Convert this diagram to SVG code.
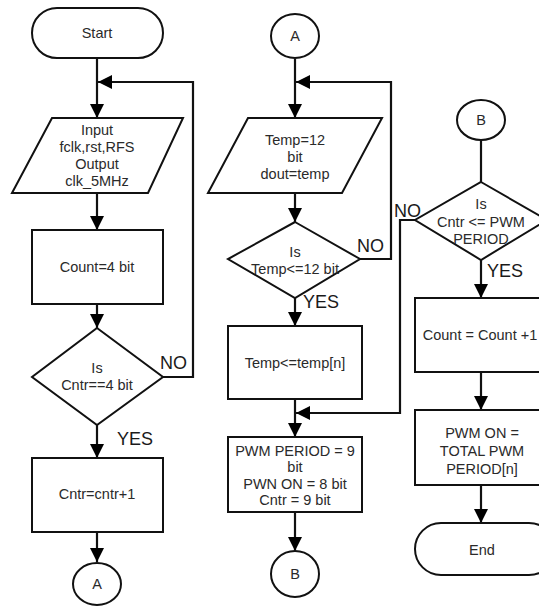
<svg xmlns="http://www.w3.org/2000/svg" width="539" height="606" viewBox="0 0 539 606">
<defs>
<marker id="ah" markerUnits="userSpaceOnUse" markerWidth="14" markerHeight="14" refX="14" refY="7" orient="auto">
<path d="M0,0 L14,7 L0,14 z" fill="#000"/>
</marker>
<style>
.s{fill:#fff;stroke:#111;stroke-width:2}
.t{font-family:"Liberation Sans",Arial,sans-serif;font-size:14.5px;fill:#2a2a2a;text-anchor:middle}
.l{font-family:"Liberation Sans",Arial,sans-serif;font-size:18px;fill:#1a1a1a}
.c{fill:none;stroke:#111;stroke-width:2.2}
</style>
</defs>
<rect width="539" height="606" fill="#fff"/>
<g id="connectors">
<path class="c" d="M97,58 V118" marker-end="url(#ah)"/>
<path class="c" d="M163,377 H193 V82 H98" marker-end="url(#ah)"/>
<path class="c" d="M97,193 V230" marker-end="url(#ah)"/>
<path class="c" d="M97,304 V328" marker-end="url(#ah)"/>
<path class="c" d="M97,425 V458" marker-end="url(#ah)"/>
<path class="c" d="M97,532 V562" marker-end="url(#ah)"/>
<path class="c" d="M295,59 V118" marker-end="url(#ah)"/>
<path class="c" d="M360,259 H391 V82 H296" marker-end="url(#ah)"/>
<path class="c" d="M295,193 V222" marker-end="url(#ah)"/>
<path class="c" d="M295,298 V326" marker-end="url(#ah)"/>
<path class="c" d="M295,399 V437" marker-end="url(#ah)"/>
<path class="c" d="M415,220 H400 V413 H296" marker-end="url(#ah)"/>
<path class="c" d="M295,512 V551" marker-end="url(#ah)"/>
<path class="c" d="M481,140 V182"/>
<path class="c" d="M481,260 V298" marker-end="url(#ah)"/>
<path class="c" d="M481,372 V410" marker-end="url(#ah)"/>
<path class="c" d="M481,485 V523" marker-end="url(#ah)"/>
</g>
<g id="labels">
<text class="l" x="160" y="369">NO</text>
<text class="l" x="117" y="445">YES</text>
<text class="l" x="357" y="252">NO</text>
<text class="l" x="303" y="308">YES</text>
<text class="l" x="394" y="217">NO</text>
<text class="l" x="487" y="277">YES</text>
</g>
<g id="start">
<rect class="s" x="32" y="8" width="131" height="50" rx="25"/>
<text class="t" x="97" y="38">Start</text>
</g>
<g id="io1">
<path class="s" d="M52,118 H183 L148,193 H12 Z"/>
<text class="t" x="97" y="135">Input</text>
<text class="t" x="97" y="152">fclk,rst,RFS</text>
<text class="t" x="97" y="169">Output</text>
<text class="t" x="97" y="186">clk_5MHz</text>
</g>
<g id="count4">
<rect class="s" x="32" y="230" width="131" height="74"/>
<text class="t" x="97" y="272">Count=4 bit</text>
</g>
<g id="dec1">
<path class="s" d="M97,328 L163,377 L97,425 L32,377 Z"/>
<text class="t" x="97" y="373">Is</text>
<text class="t" x="97" y="390">Cntr==4 bit</text>
</g>
<g id="cntr">
<rect class="s" x="32" y="458" width="131" height="74"/>
<text class="t" x="97" y="499">Cntr=cntr+1</text>
</g>
<g id="connA1">
<ellipse class="s" cx="97" cy="584" rx="24" ry="21"/>
<text class="t" x="97" y="589">A</text>
</g>
<g id="connA2">
<ellipse class="s" cx="295" cy="36" rx="24" ry="22"/>
<text class="t" x="295" y="41">A</text>
</g>
<g id="io2">
<path class="s" d="M248,118 H382 L342,193 H208 Z"/>
<text class="t" x="295" y="145">Temp=12</text>
<text class="t" x="295" y="162">bit</text>
<text class="t" x="295" y="179">dout=temp</text>
</g>
<g id="dec2">
<path class="s" d="M295,222 L360,259 L295,298 L228,259 Z"/>
<text class="t" x="295" y="257">Is</text>
<text class="t" x="295" y="274">Temp&lt;=12 bit</text>
</g>
<g id="temp">
<rect class="s" x="228" y="326" width="134" height="73"/>
<text class="t" x="295" y="368">Temp&lt;=temp[n]</text>
</g>
<g id="pwm">
<rect class="s" x="228" y="437" width="134" height="75"/>
<text class="t" x="295" y="456">PWM PERIOD = 9</text>
<text class="t" x="295" y="472">bit</text>
<text class="t" x="295" y="489">PWN ON = 8 bit</text>
<text class="t" x="295" y="505">Cntr = 9 bit</text>
</g>
<g id="connB1">
<ellipse class="s" cx="295" cy="574" rx="24" ry="23"/>
<text class="t" x="295" y="579">B</text>
</g>
<g id="connB2">
<ellipse class="s" cx="481" cy="120" rx="24" ry="20"/>
<text class="t" x="481" y="125">B</text>
</g>
<g id="dec3">
<path class="s" d="M481,182 L547,220 L481,260 L415,220 Z"/>
<text class="t" x="481" y="209">Is</text>
<text class="t" x="481" y="227">Cntr &lt;= PWM</text>
<text class="t" x="481" y="244">PERIOD</text>
</g>
<g id="countinc">
<rect class="s" x="415" y="298" width="132" height="74"/>
<text class="t" x="480" y="340">Count = Count +1</text>
</g>
<g id="pwmon">
<rect class="s" x="415" y="410" width="132" height="75"/>
<text class="t" x="482" y="438">PWM ON =</text>
<text class="t" x="482" y="456">TOTAL PWM</text>
<text class="t" x="482" y="474">PERIOD[n]</text>
</g>
<g id="end">
<rect class="s" x="415" y="523" width="140" height="52" rx="26"/>
<text class="t" x="482" y="555">End</text>
</g>
</svg>
